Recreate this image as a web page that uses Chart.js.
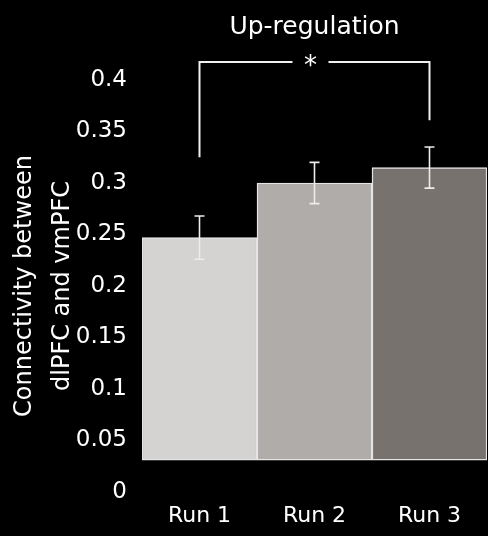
<!DOCTYPE html>
<html>
<head>
<meta charset="utf-8">
<script src="https://cdn.jsdelivr.net/npm/chart.js@4.4.1/dist/chart.umd.min.js"></script>
<style>
html,body{margin:0;padding:0;background:#000;}
#wrap{width:488px;height:536px;}
</style>
</head>
<body>
<div id="wrap"><canvas id="c" width="488" height="536"></canvas></div>
<script>
const categories = ["Run 1", "Run 2", "Run 3"];
const means = [0.247, 0.300, 0.315];
const errors = [0.021, 0.020, 0.020];
const barBase = 0.031;
const barColors = ["#d5d2d2", "#b0acaa", "#78726f"];
const yTicks = [0, 0.05, 0.1, 0.15, 0.2, 0.25, 0.3, 0.35, 0.4];
const titleText = "Up-regulation";
const yTitle = ["Connectivity between", "dlPFC and vmPFC"];
const sigLabel = "*";
const bracketTop = 0.4175;
const bracketLeftEnd = 0.325;
const bracketRightEnd = 0.361;

const FONT = "'DejaVu Sans', sans-serif";

const overlay = {
  id: 'overlay',
  afterDatasetsDraw(chart) {
    const ctx = chart.ctx;
    const x = chart.scales.x, y = chart.scales.y;
    ctx.save();
    ctx.strokeStyle = '#ececec';
    ctx.lineWidth = 1.6;
    means.forEach((m, i) => {
      const px = x.getPixelForValue(i);
      const top = y.getPixelForValue(m + errors[i]);
      const bot = y.getPixelForValue(m - errors[i]);
      ctx.beginPath();
      ctx.moveTo(px, top); ctx.lineTo(px, bot);
      ctx.moveTo(px - 5, top); ctx.lineTo(px + 5, top);
      ctx.moveTo(px - 5, bot); ctx.lineTo(px + 5, bot);
      ctx.stroke();
    });
    const x0 = x.getPixelForValue(0), x2 = x.getPixelForValue(2);
    const yt = y.getPixelForValue(bracketTop);
    const mid = (x0 + x2) / 2 - 4;
    ctx.lineWidth = 2;
    ctx.strokeStyle = '#f0f0f0';
    ctx.beginPath();
    ctx.moveTo(x0, y.getPixelForValue(bracketLeftEnd));
    ctx.lineTo(x0, yt);
    ctx.lineTo(mid - 18, yt);
    ctx.moveTo(mid + 18, yt);
    ctx.lineTo(x2, yt);
    ctx.lineTo(x2, y.getPixelForValue(bracketRightEnd));
    ctx.stroke();
    ctx.fillStyle = '#ffffff';
    ctx.font = "26px " + FONT;
    ctx.textAlign = 'center';
    ctx.textBaseline = 'middle';
    ctx.fillText(sigLabel, mid, yt + 5);
    ctx.restore();
  }
};

new Chart(document.getElementById('c'), {
  type: 'bar',
  data: {
    labels: categories,
    datasets: [{
      data: means,
      base: barBase,
      backgroundColor: barColors,
      borderColor: '#e4e4e4',
      borderWidth: 1.5,
      borderSkipped: false,
      barPercentage: 1,
      categoryPercentage: 1
    }]
  },
  options: {
    responsive: false,
    animation: false,
    devicePixelRatio: 1,
    layout: { padding: { top: 0, right: 1, bottom: 0, left: 0 } },
    plugins: {
      legend: { display: false },
      tooltip: { enabled: false },
      title: {
        display: true,
        fullSize: false,
        text: titleText,
        color: '#ffffff',
        font: { family: FONT, size: 25, weight: 'normal' },
        padding: { top: 12, bottom: 38 }
      }
    },
    scales: {
      x: {
        afterFit(scale) { scale.height = 44; },
        grid: { display: false, drawTicks: false },
        border: { display: false },
        ticks: { color: '#ffffff', font: { family: FONT, size: 22 }, padding: 11 }
      },
      y: {
        min: 0, max: 0.4,
        afterBuildTicks(scale) { scale.ticks = yTicks.map(v => ({ value: v })); },
        afterFit(scale) { scale.width = 142; },
        grid: { display: false, drawTicks: false },
        border: { display: false },
        ticks: {
          color: '#ffffff',
          font: { family: FONT, size: 23 },
          padding: 15,
          callback: v => String(Math.round(v * 100) / 100)
        },
        title: {
          display: true,
          text: yTitle,
          color: '#ffffff',
          font: { family: FONT, size: 24, lineHeight: 1.58 },
          padding: { top: 6, bottom: 0 }
        }
      }
    }
  },
  plugins: [overlay]
});
</script>
</body>
</html>
